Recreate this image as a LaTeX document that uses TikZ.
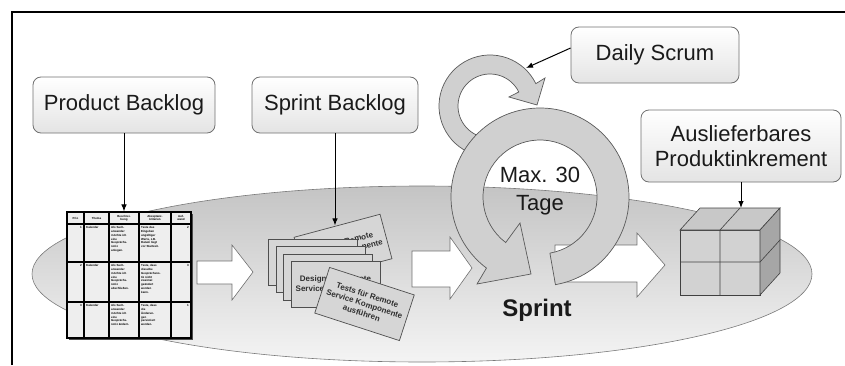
\documentclass[tikz,border=0pt]{standalone}
\usepackage{fontspec}
\setmainfont{Liberation Sans}
\usetikzlibrary{arrows.meta,calc,shapes.geometric}

\definecolor{ink}{HTML}{1A1A1A}
\definecolor{boxedge}{HTML}{707070}
\definecolor{boxbottom}{HTML}{E4E4E4}
\definecolor{stagetop}{HTML}{C4C4C4}
\definecolor{stagebottom}{HTML}{F4F4F4}
\definecolor{stageedge}{HTML}{7A7A7A}
\definecolor{ringfill}{HTML}{D0D0D0}
\definecolor{ringedge}{HTML}{5A5A5A}
\definecolor{cardfill}{HTML}{D6D6D6}
\definecolor{cardedge}{HTML}{4E4E4E}
\definecolor{cardtext}{HTML}{2E2E2E}
\definecolor{cellfill}{HTML}{EEEEEE}
\definecolor{cubefront}{HTML}{D2D2D2}
\definecolor{cubetopc}{HTML}{C8C8C8}
\definecolor{cubeside}{HTML}{A6A6A6}

\tikzset{
  label box/.style={draw=boxedge, line width=0.8pt, rounded corners=8pt,
    top color=white, bottom color=boxbottom, text=ink, align=center,
    inner sep=0pt, font=\fontsize{22}{25}\selectfont},
  pointer/.style={draw=black, line width=1pt, -{Latex[length=7pt,width=5.5pt]}},
  block arrow/.style={draw=boxedge, fill=white, line width=0.6pt},
  ring/.style={draw=ringedge, fill=ringfill, line width=0.7pt},
  card/.style={draw=cardedge, fill=cardfill, line width=0.7pt,
    minimum width=89pt, minimum height=46pt, inner sep=0pt, align=center,
    text=cardtext, font=\bfseries\fontsize{8}{9.5}\selectfont},
  cellhead/.style={font=\bfseries\fontsize{2.9}{3.3}\selectfont, align=center, inner sep=0pt},
  celltext/.style={font=\bfseries\fontsize{2.9}{3.9}\selectfont, align=left, inner sep=0pt, anchor=north west},
  cellnum/.style={font=\bfseries\fontsize{3}{3.4}\selectfont, inner sep=0pt, anchor=north east},
  cube/.style={draw=black!75, line width=0.6pt},
}

\begin{document}
\begin{tikzpicture}[x=1pt,y=1pt]
\useasboundingbox (0,0) rectangle (845,365);

% outer frame
\draw[line width=1.1pt] (12,0) -- (12,353) -- (845,353);

% sprint stage
\path[draw=stageedge, line width=0.6pt, top color=stagetop, bottom color=stagebottom]
  (422,91) ellipse [x radius=390, y radius=88];

% white flow arrows
\draw[block arrow] (197,81) -- (232,81) -- (232,65) -- (253,93) -- (232,120) -- (232,104) -- (197,104) -- cycle;
\draw[block arrow] (412,78) -- (450,78) -- (450,66) -- (472,97) -- (450,128) -- (450,114) -- (412,114) -- cycle;
\draw[block arrow] (555,83) -- (637,83) -- (637,68) -- (665,100) -- (637,132) -- (637,120) -- (555,120) -- cycle;

% daily loop
\begin{scope}[shift={(490,259)}]
  \draw[ring] (250:51) arc[start angle=250, end angle=26, radius=51]
    -- (55,28) -- (47,1) -- (19,9) -- (26:32)
    arc[start angle=26, end angle=250, radius=32] -- cycle;
\end{scope}

% sprint cycle
\begin{scope}[shift={(540,168)}]
  \draw[ring] (280:89) arc[start angle=280, end angle=593, radius=89]
    -- (-63,-87) -- (-9,-77) -- (-20,-26) -- (593:57)
    arc[start angle=593, end angle=280, radius=57] -- cycle;
\end{scope}
\node[font=\fontsize{22}{28}\selectfont, text=ink, align=center] (cycle) at (540,174) {Max. 30\\Tage};
\node[font=\bfseries\fontsize{24}{28}\selectfont, text=ink] (sprint) at (537,55) {Sprint};

% product backlog table
\fill[black!70] (68.5,25.5) rectangle (192.5,151.5);
\node[draw=black, fill=cellfill, line width=1.1pt, minimum width=124pt, minimum height=126pt, inner sep=0pt] (tbl) at (129,90) {};
\foreach \x in {84,109,139,171} \draw[line width=1.1pt] (\x,27) -- (\x,153);
\foreach \y in {141,103,63} \draw[line width=1.1pt] (67,\y) -- (191,\y);
\node[cellhead] at (75.5,147) {Prio};
\node[cellhead] at (96.5,147) {Thema};
\node[cellhead] at (124,147) {Beschrei-\\bung};
\node[cellhead] at (155,147) {Akzeptanz-\\kriterien};
\node[cellhead] at (181,147) {Auf-\\wand};
\foreach \top/\n/\w/\a/\b in {
  139/1/2/{Als Sach-\\anwender\\möchte ich\\eine\\Gesprächs-\\notiz\\anlegen.}/{Teste das\\Eingeben\\ungültiger\\Werte, z.B.\\Datum liegt\\vor Startzeit.},
  101/2/3/{Als Sach-\\anwender\\möchte ich\\eine\\Gesprächs-\\notiz\\abschließen.}/{Teste, dass\\dieselbe\\Gesprächsno-\\tiz nicht\\zweimal\\geändert\\werden\\kann.},
  61/3/1/{Als Sach-\\anwender\\möchte ich\\eine\\Gesprächs-\\notiz ändern.}/{Teste, dass\\die\\Änderun-\\gen\\persistiert\\werden.}} {
  \node[cellnum] at (82,\top) {\n};
  \node[celltext] at (86,\top) {Kalender};
  \node[celltext] at (111,\top) {\a};
  \node[celltext] at (141,\top) {\b};
  \node[cellnum] at (189,\top) {\w};
}

% sprint backlog cards
\node[card, rotate=15] (cR) at (343,117) {Tests für Remote\\Service Komponente};
\node[card] (cA) at (313,103) {};
\node[card] (cB) at (320.5,95.5) {};
\node[card] (cC) at (328,88) {};
\node[card] (cD) at (335.5,80.5) {Design für Remote\\Service Komponente};
\node[card, rotate=-18, minimum height=48pt] (cF) at (364.5,61) {Tests für Remote\\Service Komponente\\ausführen};

% product increment cube
\coordinate (f1) at (680,70);
\coordinate (f2) at (760,70);
\coordinate (f3) at (760,135);
\coordinate (f4) at (680,135);
\coordinate (cubetop) at (740,157);
\draw[cube, fill=cubefront] (f1) -- (f2) -- (f3) -- (f4) -- cycle;
\draw[cube, fill=cubetopc] (f4) -- (f3) -- ++(20,22) -- (700,157) -- cycle;
\draw[cube, fill=cubeside] (f2) -- ++(20,22) -- (780,157) -- (f3) -- cycle;
\draw[cube] (720,70) -- (720,135) -- (cubetop);
\draw[cube] (680,103) -- (760,103) -- (780,125);

% label boxes
\node[label box, minimum width=182pt, minimum height=56pt] (pb) at (124,260) {Product Backlog};
\node[label box, minimum width=166pt, minimum height=56pt] (sb) at (335,260) {Sprint Backlog};
\node[label box, minimum width=168pt, minimum height=56pt] (ds) at (655,310) {Daily Scrum};
\node[label box, minimum width=200pt, minimum height=72pt] (ai) at (741,219) {Auslieferbares\\Produktinkrement};

% connectors
\coordinate (dsfrom) at ($(ds.west)+(0,7)$);
\coordinate (dsto) at (526,297);
\draw[pointer] (pb.south) -- (pb.south |- tbl.north);
\draw[pointer] (sb.south) -- (sb.south |- cR.north);
\draw[pointer] (dsfrom) -- (dsto);
\draw[pointer] (ai.south) -- (ai.south |- cubetop);
\end{tikzpicture}
\end{document}
